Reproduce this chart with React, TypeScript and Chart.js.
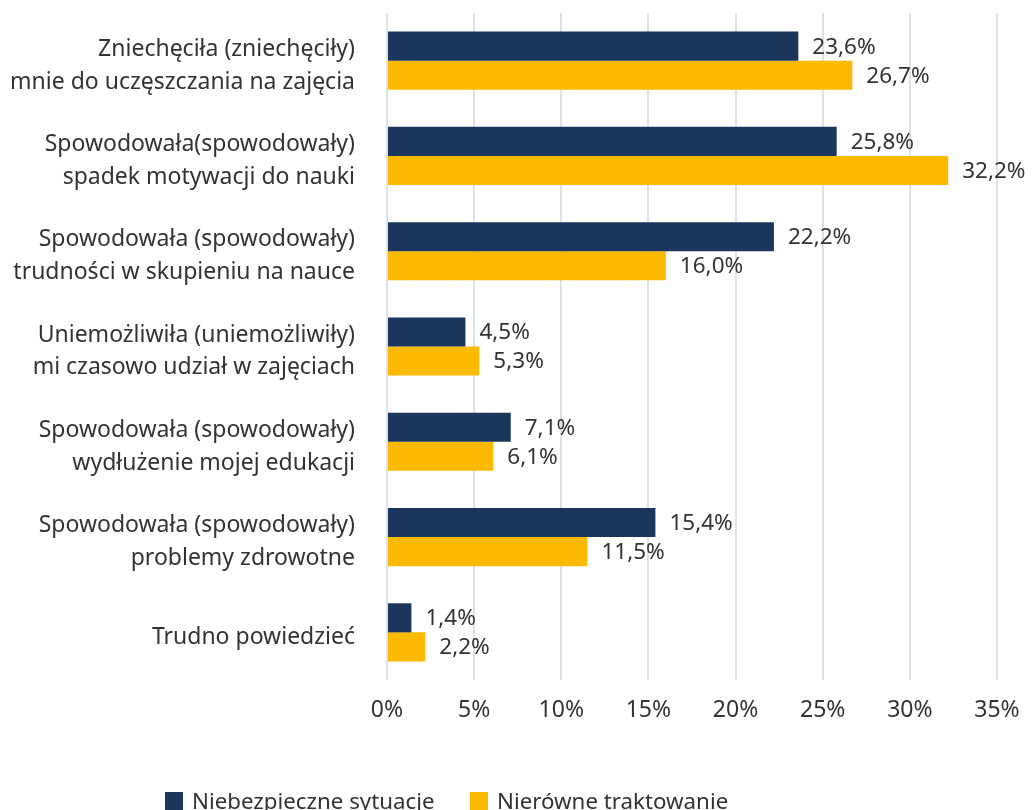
import React, { useEffect, useRef } from "react";
import { Chart, registerables } from "chart.js";

Chart.register(...registerables);

const categories: string[][] = [
  ["Zniechęciła (zniechęciły)", "mnie do uczęszczania na zajęcia"],
  ["Spowodowała(spowodowały)", "spadek motywacji do nauki"],
  ["Spowodowała (spowodowały)", "trudności w skupieniu na nauce"],
  ["Uniemożliwiła (uniemożliwiły)", "mi czasowo udział w zajęciach"],
  ["Spowodowała (spowodowały)", "wydłużenie mojej edukacji"],
  ["Spowodowała (spowodowały)", "problemy zdrowotne"],
  ["Trudno powiedzieć"],
];

const seriesNames = ["Niebezpieczne sytuacje", "Nierówne traktowanie"];
const niebezpieczne = [23.6, 25.8, 22.2, 4.5, 7.1, 15.4, 1.4];
const nierowne = [26.7, 32.2, 16.0, 5.3, 6.1, 11.5, 2.2];

const NAVY = "#1b365d";
const YELLOW = "#fbb900";
const TEXT = "#333333";
const FONT = "'Noto Sans', sans-serif";

const valueLabels = {
  id: "valueLabels",
  afterDatasetsDraw(chart: any) {
    const ctx = chart.ctx;
    ctx.save();
    ctx.font = `22.5px ${FONT}`;
    ctx.fillStyle = TEXT;
    ctx.textAlign = "left";
    ctx.textBaseline = "middle";
    chart.data.datasets.forEach((ds: any, di: number) => {
      const meta = chart.getDatasetMeta(di);
      meta.data.forEach((bar: any, i: number) => {
        const v = ds.data[i] as number;
        const txt = v.toFixed(1).replace(".", ",") + "%";
        ctx.fillText(txt, bar.x + 14, bar.y + 1);
      });
    });
    ctx.restore();
  },
};

export default function App() {
  const ref = useRef<HTMLCanvasElement | null>(null);
  useEffect(() => {
    document.body.style.margin = "0";
    const chart = new Chart(ref.current!, {
      type: "bar",
      data: {
        labels: categories,
        datasets: [
          {
            label: seriesNames[0],
            data: niebezpieczne,
            backgroundColor: NAVY,
            categoryPercentage: 0.61,
            barPercentage: 1,
          },
          {
            label: seriesNames[1],
            data: nierowne,
            backgroundColor: YELLOW,
            categoryPercentage: 0.61,
            barPercentage: 1,
          },
        ],
      },
      options: {
        indexAxis: "y",
        animation: false,
        responsive: false,
        layout: { padding: { top: 13, right: 38, left: 0, bottom: 0 } },
        plugins: { legend: { display: false }, tooltip: { enabled: false } },
        scales: {
          x: {
            min: 0,
            max: 35,
            grid: { color: "#dbe2ec", lineWidth: 2, drawTicks: false },
            border: { display: false },
            ticks: {
              stepSize: 5,
              padding: 17,
              color: TEXT,
              font: { size: 23, family: FONT },
              callback: (v: any) => v + "%",
            },
            afterFit: (s: any) => {
              s.height = 130;
              s.paddingLeft = 0;
              s.paddingRight = 0;
            },
          },
          y: {
            grid: { display: false, drawTicks: false },
            border: { display: false },
            ticks: {
              padding: 32,
              labelOffset: 5,
              color: TEXT,
              font: { size: 23, family: FONT, lineHeight: 1.43 },
            },
            afterFit: (s: any) => {
              s.width = 387;
              s.paddingTop = 0;
              s.paddingBottom = 0;
            },
          },
        },
      },
      plugins: [valueLabels],
    });
    return () => chart.destroy();
  }, []);

  const legendItem = (color: string, text: string, left: number) => (
    <div
      style={{
        position: "absolute",
        left,
        top: 785,
        display: "flex",
        alignItems: "center",
        fontFamily: FONT,
        fontSize: 22.3,
        color: TEXT,
        whiteSpace: "nowrap",
      }}
    >
      <span
        style={{
          display: "inline-block",
          width: 18,
          height: 18,
          background: color,
          marginRight: 9,
        }}
      />
      <span>{text}</span>
    </div>
  );

  return (
    <div style={{ position: "relative", width: 1035, height: 810, overflow: "hidden" }}>
      <canvas ref={ref} width={1035} height={810} />
      {legendItem(NAVY, seriesNames[0], 165)}
      {legendItem(YELLOW, seriesNames[1], 470)}
    </div>
  );
}
